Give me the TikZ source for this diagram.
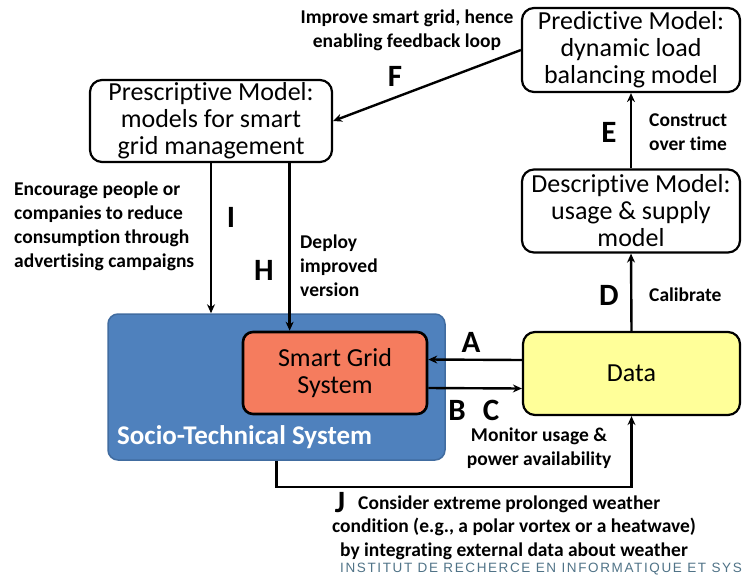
\documentclass[tikz,border=0pt]{standalone}
\usepackage{fontspec}
\setmainfont{Carlito}[Ligatures=NoCommon]
\newfontfamily\irisafont{Liberation Sans}[LetterSpace=12]
\usetikzlibrary{arrows.meta}
\definecolor{stsblue}{RGB}{79,129,189}
\definecolor{stsedge}{RGB}{65,108,160}
\definecolor{sgsred}{RGB}{245,124,94}
\definecolor{datayellow}{RGB}{255,255,153}
\definecolor{irisagray}{RGB}{80,115,135}
\begin{document}
\begin{tikzpicture}[x=1pt, y=-1pt,
  model/.style={draw, line width=2.2pt, rounded corners=12pt, fill=white, align=center,
    inner sep=1pt, font=\fontsize{26}{27}\selectfont},
  arr/.style={line width=2.4pt, -{Stealth[length=9pt,width=8pt]}},
  lab/.style={font=\fontsize{19.5}{24}\selectfont\bfseries, inner sep=0pt},
  letter/.style={font=\fontsize{31}{31}\selectfont\bfseries, inner sep=0pt}]
\useasboundingbox (0,0) rectangle (742,574);
% models
\node[model, minimum width=242pt, minimum height=82pt] (presc) at (211,121)
  {Prescriptive Model:\\models for smart\\grid management};
\node[model, minimum width=218pt, minimum height=84pt] (pred) at (631,50)
  {Predictive Model:\\dynamic load\\balancing model};
\node[model, minimum width=218pt, minimum height=83pt] (desc) at (631,211)
  {Descriptive Model:\\usage \& supply\\model};
% systems and data
\node[draw=stsedge, line width=1.5pt, fill=stsblue, rounded corners=10pt,
  minimum width=337pt, minimum height=146pt] (sts) at (276.5,387) {};
\node[anchor=west, text=white, font=\fontsize{27}{30}\selectfont\bfseries, inner sep=0pt]
  (stslab) at (117,437) {Socio-Technical System};
\node[model, fill=sgsred, line width=2.6pt, rounded corners=10pt,
  minimum width=184pt, minimum height=82pt] (sgs) at (335,373) {Smart Grid\\System};
\node[model, fill=datayellow, rounded corners=12pt,
  minimum width=217pt, minimum height=83pt] (data) at (631.5,373.5) {Data};
% connectors
\begin{scope}[every path/.style={arr}]
\draw (pred.west) -- (presc.east);
\draw (desc.north) -- (pred.south);
\draw (data.north) -- (desc.south);
\draw (presc.south) -- (presc.south |- sts.north);
\draw (presc.south -| sgs.137) -- (sgs.137);
\draw ([yshift=13.5pt]data.west) -- ([yshift=13.5pt]sgs.east);
\draw ([yshift=-15pt]sgs.east) -- ([yshift=-15pt]data.west);
\draw (sts.south) -- ++(0,26) -| (data.south);
\end{scope}
% labels
\node[lab, align=center] (flab) at (407,30) {Improve smart grid, hence\\enabling feedback loop};
\node[letter] (f) at (395,76) {F};
\node[letter] (e) at (609,132) {E};
\node[lab, anchor=west, align=left] (elab) at (649,132) {Construct\\over time};
\node[letter] (d) at (609,295) {D};
\node[lab, anchor=west] (dlab) at (649,295) {Calibrate};
\node[lab, anchor=west, align=left] (ilab) at (14,226)
  {Encourage people or\\companies to reduce\\consumption through\\advertising campaigns};
\node[letter] (i) at (231,217) {I};
\node[letter] (h) at (264,270) {H};
\node[lab, anchor=west, align=left] (hlab) at (300,266) {Deploy\\improved\\version};
\node[letter] (a) at (471,342) {A};
\node[letter] (b) at (457,410) {B};
\node[letter] (c) at (491,410) {C};
\node[lab, align=center] (clab) at (539,448) {Monitor usage \&\\power availability};
\node[letter] (j) at (340,503) {J};
\node[lab, anchor=west] (jlab1) at (358,504) {Consider extreme prolonged weather};
\node[lab, align=center] (jlab2) at (514,539)
  {condition (e.g., a polar vortex or a heatwave)\\by integrating external data about weather};
\node[anchor=west, inner sep=0pt, text=irisagray, font=\irisafont\fontsize{13.5}{14}\selectfont]
  (irisa) at (340,569) {INSTITUT DE RECHERCE EN INFORMATIQUE ET SYS};
\end{tikzpicture}
\end{document}
